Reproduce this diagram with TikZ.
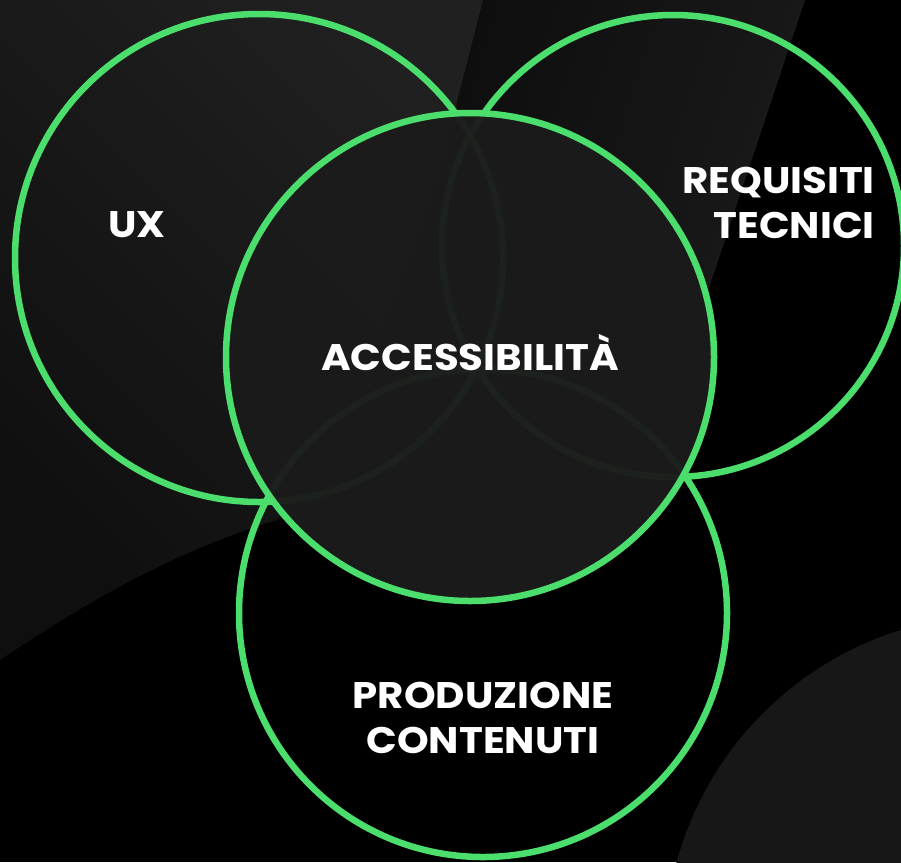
\documentclass[tikz,border=0pt]{standalone}
\usepackage{fontspec}
\setmainfont{Poppins}[FakeStretch=1.09]
\usetikzlibrary{shadings}
\definecolor{vgreen}{RGB}{75,222,108}
\definecolor{bandDark}{RGB}{10,10,10}
\definecolor{bandLight}{RGB}{27,27,27}
\definecolor{leftDark}{RGB}{15,15,15}
\definecolor{leftLight}{RGB}{32,32,32}
\definecolor{blobgrey}{RGB}{23,23,23}
\definecolor{centerfill}{RGB}{27,27,27}
\tikzset{
  ring/.style={draw=vgreen, line width=6.5pt, circle, inner sep=0pt},
  lbl/.style={text=white, font=\fontsize{37}{45}\selectfont\bfseries, inner sep=0pt},
}
\begin{document}
\begin{tikzpicture}[x=1pt,y=-1pt]
\useasboundingbox (0,0) rectangle (901,862);
% background
\fill[black] (0,0) rectangle (901,862);
\shade[left color=bandDark, right color=bandLight, shading angle=72]
  (483,0) -- (805,0) -- (705,300) .. controls (660,430) and (450,470) .. (277,520)
  .. controls (350,420) and (420,250) .. (455,110) -- cycle;
\shade[left color=leftDark, right color=leftLight, shading angle=135]
  (0,0) -- (483,0) -- (455,110) .. controls (420,250) and (350,420) .. (277,520)
  .. controls (160,555) and (60,620) .. (0,660) -- cycle;
\fill[blobgrey] (1000,950) circle[radius=335];
% circles
\node[ring, minimum size=488pt] (ux) at (259,258) {};
\node[ring, minimum size=462pt] (req) at (673,246) {};
\node[ring, minimum size=488pt] (prod) at (483,613) {};
\node[ring, minimum size=488pt, fill=centerfill, fill opacity=0.97] (acc) at (470,357) {};
% labels
\node[lbl, anchor=base] (tux) at (137,237) {UX};
\node[lbl, anchor=base] (tacc) at (470,370) {ACCESSIBILITÀ};
\node[lbl, anchor=base east, align=right] (treq) at (875,238) {REQUISITI\\TECNICI};
\node[lbl, anchor=base, align=center] (tprod) at (483,753) {PRODUZIONE\\CONTENUTI};
\end{tikzpicture}
\end{document}
